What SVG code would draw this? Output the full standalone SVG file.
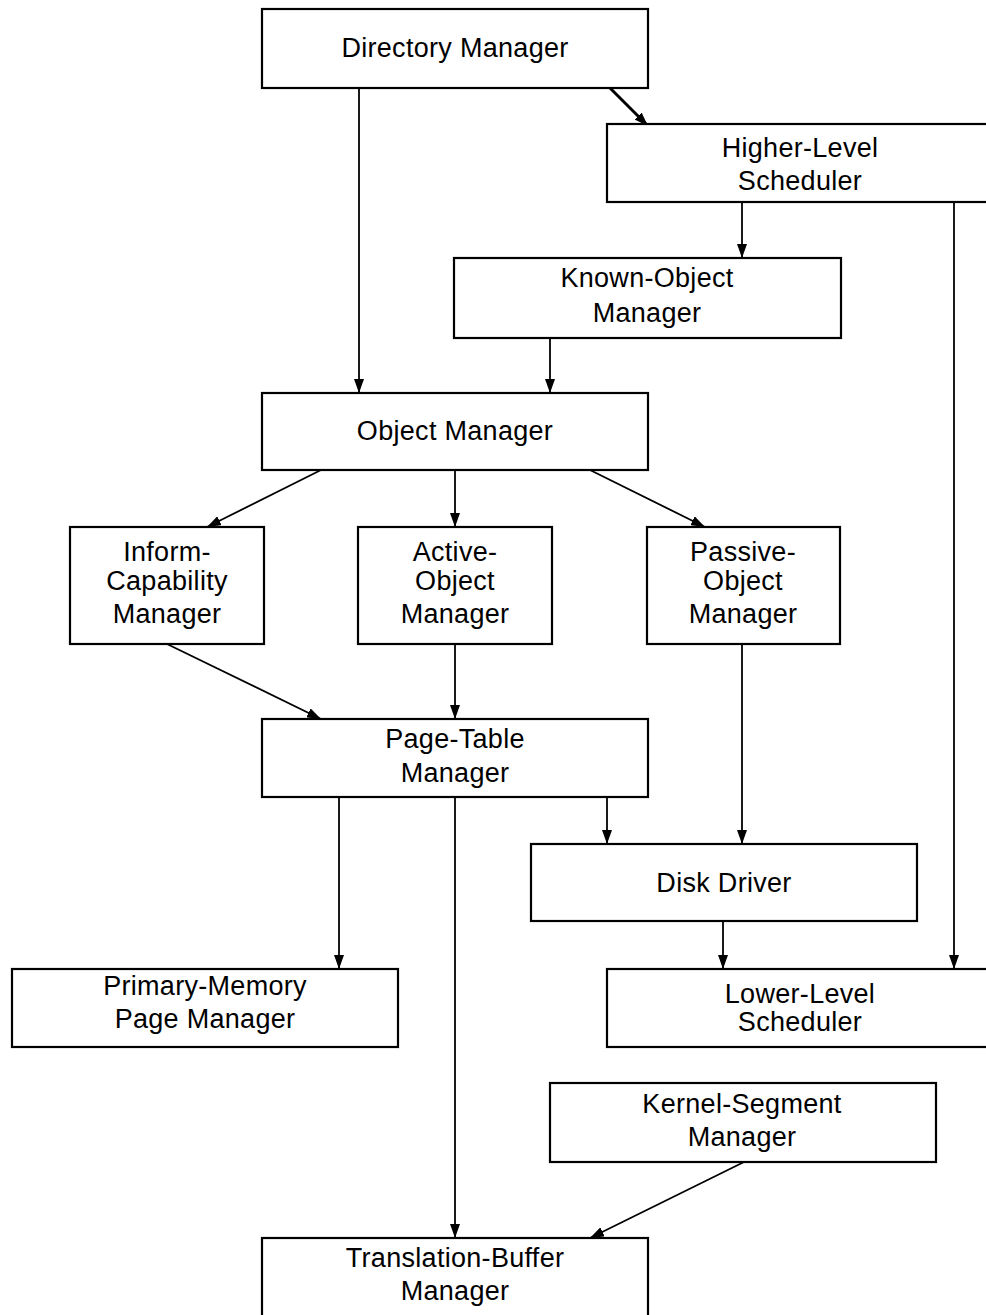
<svg xmlns="http://www.w3.org/2000/svg" width="986" height="1315" viewBox="0 0 986 1315">
  <style>
    .box { fill: #ffffff; stroke: #000000; stroke-width: 2.2; }
    .lbl { font-family: "Liberation Sans", Arial, sans-serif; font-size: 27px; letter-spacing: 0.3px; fill: #000000; text-anchor: middle; }
    .edge { fill: none; stroke: #000000; stroke-width: 1.8; marker-end: url(#ah); }
    .thick { stroke-width: 3; }
  </style>
  <defs>
    <marker id="ah" viewBox="0 0 14 10" refX="14" refY="5" markerWidth="14" markerHeight="10" markerUnits="userSpaceOnUse" orient="auto">
      <path d="M0,0 L14,5 L0,10 z" fill="#000000"/>
    </marker>
  </defs>
  <rect x="0" y="0" width="986" height="1315" fill="#ffffff"/>

  <g id="connectors">
    <line class="edge" x1="359" y1="88" x2="359" y2="393"/>
    <line class="edge thick" x1="610" y1="88" x2="648" y2="126"/>
    <line class="edge" x1="742" y1="202" x2="742" y2="258"/>
    <line class="edge" x1="954" y1="202" x2="954" y2="969"/>
    <line class="edge" x1="550" y1="338" x2="550" y2="393"/>
    <line class="edge" x1="321" y1="470" x2="207" y2="527"/>
    <line class="edge" x1="455" y1="470" x2="455" y2="527"/>
    <line class="edge" x1="590" y1="470" x2="705" y2="527"/>
    <line class="edge" x1="167" y1="644" x2="321" y2="719"/>
    <line class="edge" x1="455" y1="644" x2="455" y2="719"/>
    <line class="edge" x1="742" y1="644" x2="742" y2="844"/>
    <line class="edge" x1="607" y1="797" x2="607" y2="844"/>
    <line class="edge" x1="339" y1="797" x2="339" y2="969"/>
    <line class="edge" x1="455" y1="797" x2="455" y2="1238"/>
    <line class="edge" x1="723" y1="921" x2="723" y2="969"/>
    <line class="edge" x1="744" y1="1162" x2="590" y2="1238"/>
  </g>

  <g id="directory-manager">
    <rect class="box" x="262" y="9" width="386" height="79"/>
    <text class="lbl" x="455" y="57">Directory Manager</text>
  </g>

  <g id="higher-level-scheduler">
    <rect class="box" x="607" y="124" width="400" height="78"/>
    <text class="lbl" x="800" y="157">Higher-Level</text>
    <text class="lbl" x="800" y="190">Scheduler</text>
  </g>

  <g id="known-object-manager">
    <rect class="box" x="454" y="258" width="387" height="80"/>
    <text class="lbl" x="647" y="287">Known-Object</text>
    <text class="lbl" x="647" y="322">Manager</text>
  </g>

  <g id="object-manager">
    <rect class="box" x="262" y="393" width="386" height="77"/>
    <text class="lbl" x="455" y="440">Object Manager</text>
  </g>

  <g id="inform-capability-manager">
    <rect class="box" x="70" y="527" width="194" height="117"/>
    <text class="lbl" x="167" y="561">Inform-</text>
    <text class="lbl" x="167" y="590">Capability</text>
    <text class="lbl" x="167" y="623">Manager</text>
  </g>

  <g id="active-object-manager">
    <rect class="box" x="358" y="527" width="194" height="117"/>
    <text class="lbl" x="455" y="561">Active-</text>
    <text class="lbl" x="455" y="590">Object</text>
    <text class="lbl" x="455" y="623">Manager</text>
  </g>

  <g id="passive-object-manager">
    <rect class="box" x="647" y="527" width="193" height="117"/>
    <text class="lbl" x="743" y="561">Passive-</text>
    <text class="lbl" x="743" y="590">Object</text>
    <text class="lbl" x="743" y="623">Manager</text>
  </g>

  <g id="page-table-manager">
    <rect class="box" x="262" y="719" width="386" height="78"/>
    <text class="lbl" x="455" y="748">Page-Table</text>
    <text class="lbl" x="455" y="782">Manager</text>
  </g>

  <g id="disk-driver">
    <rect class="box" x="531" y="844" width="386" height="77"/>
    <text class="lbl" x="724" y="892">Disk Driver</text>
  </g>

  <g id="primary-memory-page-manager">
    <rect class="box" x="12" y="969" width="386" height="78"/>
    <text class="lbl" x="205" y="995">Primary-Memory</text>
    <text class="lbl" x="205" y="1028">Page Manager</text>
  </g>

  <g id="lower-level-scheduler">
    <rect class="box" x="607" y="969" width="400" height="78"/>
    <text class="lbl" x="800" y="1003">Lower-Level</text>
    <text class="lbl" x="800" y="1031">Scheduler</text>
  </g>

  <g id="kernel-segment-manager">
    <rect class="box" x="550" y="1083" width="386" height="79"/>
    <text class="lbl" x="742" y="1113">Kernel-Segment</text>
    <text class="lbl" x="742" y="1146">Manager</text>
  </g>

  <g id="translation-buffer-manager">
    <rect class="box" x="262" y="1238" width="386" height="100"/>
    <text class="lbl" x="455" y="1267">Translation-Buffer</text>
    <text class="lbl" x="455" y="1300">Manager</text>
  </g>
</svg>
